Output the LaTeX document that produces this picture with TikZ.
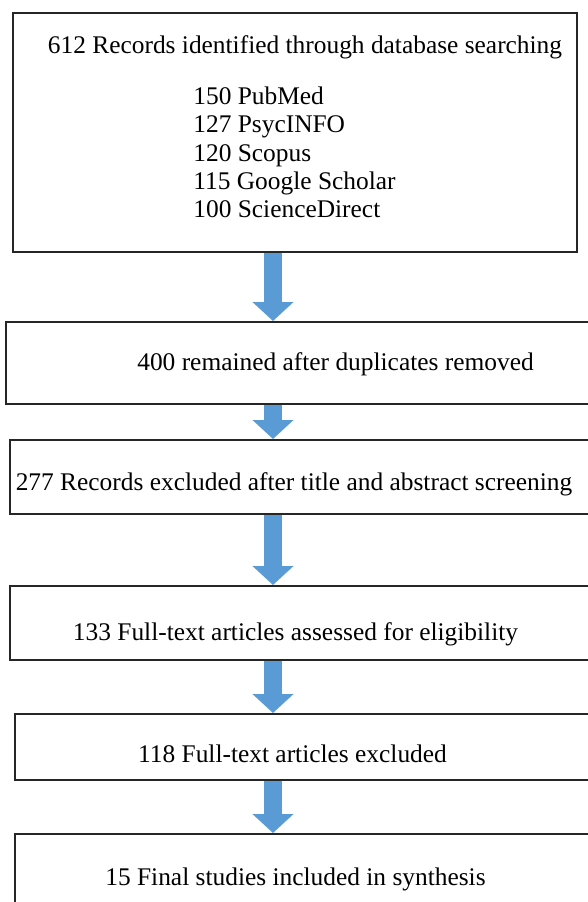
\documentclass[tikz,border=0pt]{standalone}
\usepackage{fontspec}
\setmainfont{Liberation Serif}
\usetikzlibrary{positioning,arrows.meta,calc}
\definecolor{arrowblue}{HTML}{5B9BD5}

\begin{document}
\begin{tikzpicture}[x=0.5pt, y=-0.5pt,
  box/.style={draw=black!85, line width=0.8pt, anchor=north west, inner sep=0pt},
  txt/.style={anchor=base, inner sep=0pt, font=\fontsize{12.7}{14.15}\selectfont},
  flow/.style={draw=arrowblue, line width=9pt, -{Triangle[length=9.5pt,width=20pt]}}]
  \useasboundingbox (0,0) rectangle (588,902);
  \clip (0,0) rectangle (588,902);
  \coordinate (ax) at (273,0);

  % boxes
  \node[box, minimum width=282pt, minimum height=119.5pt] (srchbox) at (12,12) {};
  \node[box, minimum width=307.5pt, minimum height=41pt] (dupbox) at (5,321) {};
  \node[box, minimum width=305.5pt, minimum height=37pt] (scrnbox) at (9,439) {};
  \node[box, minimum width=305.5pt, minimum height=37pt] (fullbox) at (9,585) {};
  \node[box, minimum width=303pt, minimum height=33pt] (exclbox) at (14,713) {};
  \node[box, minimum width=303pt, minimum height=50pt] (inclbox) at (14,833) {};

  % texts
  \node[txt] (srch) at (305,53) {612 Records identified through database searching};
  \node[txt, anchor=north west, align=left] (dblist) at (193,86.5)
    {150 PubMed\\127 PsycINFO\\120 Scopus\\115 Google Scholar\\100 ScienceDirect};
  \node[txt] (dup) at (335.5,370) {400 remained after duplicates removed};
  \node[txt] (scrn) at (294,490) {277 Records excluded after title and abstract screening};
  \node[txt] (full) at (295.5,640) {133 Full-text articles assessed for eligibility};
  \node[txt] (excl) at (292.5,762) {118 Full-text articles excluded};
  \node[txt] (incl) at (295.5,885) {15 Final studies included in synthesis};

  % arrows
  \draw[flow] (srchbox.south -| ax) -- (dupbox.north -| ax);
  \draw[flow] (dupbox.south -| ax) -- (scrnbox.north -| ax);
  \draw[flow] (scrnbox.south -| ax) -- (fullbox.north -| ax);
  \draw[flow] (fullbox.south -| ax) -- (exclbox.north -| ax);
  \draw[flow] (exclbox.south -| ax) -- (inclbox.north -| ax);
\end{tikzpicture}
\end{document}
